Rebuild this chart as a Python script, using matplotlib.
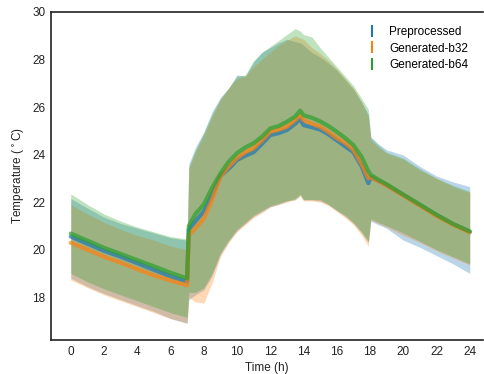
import matplotlib
matplotlib.use("Agg")
import matplotlib.pyplot as plt
from matplotlib.lines import Line2D

plt.rcParams['font.family'] = ['Liberation Sans', 'DejaVu Sans']
plt.rcParams['font.size'] = 8.5

# time axis (h)
t = [0, 1, 2, 3, 4, 5, 6, 7, 7.1, 7.5, 8, 8.5, 9, 9.5, 10, 10.5, 11, 11.5, 12, 12.5,
     13, 13.5, 13.8, 14, 14.5, 15, 15.5, 16, 16.5, 17, 17.5, 17.9, 18.05, 18.5, 19,
     20, 21, 22, 23, 24]

# Preprocessed
pre_mean = [20.55, 20.25, 19.95, 19.7, 19.43, 19.15, 18.88, 18.65,
            20.85, 21.2, 21.6, 22.3, 23.1, 23.4, 23.77, 23.95, 24.1, 24.45, 24.82, 24.9,
            25.03, 25.3, 25.5, 25.24, 25.15, 25.05, 24.85, 24.6, 24.35, 24.1, 23.5, 22.8,
            23.05, 22.9, 22.72, 22.3, 21.87, 21.45, 21.07, 20.75]
pre_hi = [22.15, 21.75, 21.37, 21.1, 20.9, 20.7, 20.5, 20.4,
          23.6, 24.3, 24.95, 25.8, 26.4, 26.8, 27.35, 27.3, 27.9, 28.3, 28.5, 28.7,
          28.85, 28.75, 28.7, 28.6, 28.3, 28.1, 27.85, 27.55, 27.15, 26.75, 26.2, 25.7,
          24.75, 24.45, 24.2, 23.98, 23.5, 23.1, 22.85, 22.65]
pre_lo = [18.8, 18.45, 18.15, 17.9, 17.65, 17.4, 17.1, 16.9,
          17.9, 18.1, 18.3, 18.9, 19.8, 20.35, 20.8, 21.1, 21.4, 21.6, 21.8, 21.9,
          22.05, 22.15, 22.35, 22.1, 22.1, 22.05, 21.9, 21.65, 21.4, 21.1, 20.7, 20.3,
          21.2, 21.05, 20.9, 20.4, 20.1, 19.75, 19.4, 19.0]

# Generated-b32
b32_mean = [20.29, 20.0, 19.7, 19.45, 19.18, 18.92, 18.7, 18.5,
            20.6, 20.9, 21.3, 22.1, 23.07, 23.5, 23.85, 24.1, 24.27, 24.6, 24.96, 25.05,
            25.17, 25.45, 25.65, 25.45, 25.3, 25.17, 24.95, 24.69, 24.5, 24.2, 23.6, 23.0,
            23.05, 22.88, 22.7, 22.28, 21.85, 21.42, 21.05, 20.73]
b32_hi = [21.9, 21.5, 21.15, 20.85, 20.6, 20.4, 20.15, 20.0,
          23.4, 24.1, 24.8, 25.6, 26.3, 26.8, 27.2, 27.3, 27.7, 28.0, 28.3, 28.6,
          28.8, 29.0, 28.9, 28.85, 28.5, 28.25, 27.95, 27.6, 27.2, 26.8, 26.2, 25.6,
          24.6, 24.3, 24.05, 23.8, 23.35, 23.0, 22.65, 22.4]
b32_lo = [18.72, 18.4, 18.1, 17.85, 17.6, 17.35, 17.1, 16.92,
          18.0, 17.8, 17.75, 18.6, 19.7, 20.3, 20.75, 21.05, 21.35, 21.55, 21.8, 21.9,
          22.0, 22.1, 22.25, 22.05, 22.05, 22.0, 21.85, 21.6, 21.35, 21.05, 20.6, 20.15,
          21.25, 21.1, 20.95, 20.6, 20.3, 19.95, 19.65, 19.35]

# Generated-b64
b64_mean = [20.68, 20.38, 20.08, 19.82, 19.56, 19.3, 19.03, 18.79,
            21.0, 21.5, 21.9, 22.6, 23.2, 23.7, 24.06, 24.3, 24.48, 24.75, 25.1, 25.2,
            25.38, 25.6, 25.85, 25.66, 25.55, 25.4, 25.2, 24.96, 24.7, 24.4, 23.9, 23.3,
            23.14, 22.95, 22.75, 22.32, 21.9, 21.47, 21.08, 20.77]
b64_hi = [22.35, 21.9, 21.5, 21.2, 20.95, 20.75, 20.55, 20.45,
          23.5, 24.2, 24.9, 25.7, 26.35, 26.8, 27.3, 27.35, 27.95, 28.3, 28.55, 28.8,
          29.05, 29.3, 29.2, 29.05, 28.95, 28.5, 28.1, 27.7, 27.3, 26.9, 26.35, 25.9,
          24.7, 24.4, 24.1, 23.85, 23.4, 23.0, 22.7, 22.45]
b64_lo = [19.0, 18.65, 18.35, 18.1, 17.85, 17.6, 17.35, 17.15,
          18.2, 18.2, 18.4, 19.0, 19.85, 20.4, 20.85, 21.15, 21.45, 21.65, 21.85, 21.95,
          22.05, 22.1, 22.3, 22.1, 22.1, 22.1, 21.9, 21.65, 21.45, 21.15, 20.75, 20.35,
          21.3, 21.15, 21.0, 20.7, 20.35, 20.0, 19.7, 19.4]

labels = ["Preprocessed", "Generated-b32", "Generated-b64"]
colors = ["#1f77b4", "#ff7f0e", "#2ca02c"]

fig = plt.figure(figsize=(4.84, 3.74), dpi=100)
ax = fig.add_axes([0.105, 0.091, 0.893, 0.877])

series = [(pre_mean, pre_lo, pre_hi), (b32_mean, b32_lo, b32_hi), (b64_mean, b64_lo, b64_hi)]
for (m, lo, hi), c in zip(series, colors):
    ax.fill_between(t, lo, hi, color=c, alpha=0.3, lw=0)
for (m, lo, hi), c in zip(series, colors):
    ax.plot(t, m, color=c, lw=3, alpha=0.7, solid_capstyle='round')

ax.set_xlim(-1.2, 24.8)
ax.set_ylim(16.2, 30)
ax.set_xticks(range(0, 25, 2))
ax.set_yticks(range(18, 31, 2))
ax.tick_params(length=0, pad=4, labelsize=8.5, colors='#222222')
for s in ['left', 'bottom', 'top']:
    ax.spines[s].set_color('#222222')
    ax.spines[s].set_linewidth(1.2)
ax.spines['right'].set_visible(False)

ax.set_xlabel("Time (h)", fontsize=8.5, color='#222222', labelpad=3)
ax.set_ylabel(r"Temperature ($^\circ$C)", fontsize=8.5, color='#222222', labelpad=4)

handles = [Line2D([], [], color=c, marker='|', ls='none', ms=8, mew=1.5) for c in colors]
ax.legend(handles, labels, loc='upper right', frameon=False, fontsize=8.5,
          handlelength=1.2, handletextpad=0.8, labelspacing=0.4,
          bbox_to_anchor=(0.99, 0.99))

fig.savefig("out.png", dpi=100)
